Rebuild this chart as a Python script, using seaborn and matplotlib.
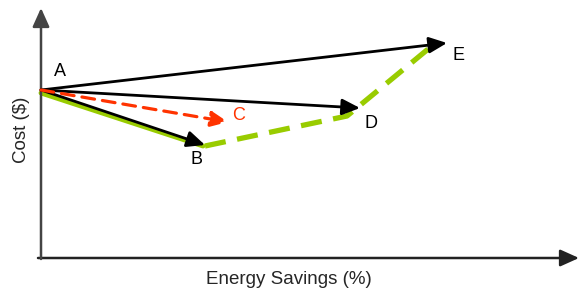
import matplotlib
matplotlib.use("Agg")
import matplotlib.pyplot as plt
import seaborn as sns
import pandas as pd

# points in chart units (energy savings, cost)
labels = ["A", "B", "C", "D", "E"]
savings = [0, 164, 187, 319, 406]
cost = [168, 113, 136, 150, 215]

# green path: A -> B solid, then B -> D' -> E dashed
green_solid_x = [0, 162]
green_solid_y = [165, 112]
green_dash_x = [164, 306, 392]
green_dash_y = [112, 142, 213]

sns.set_style("white")
plt.rcParams["font.family"] = ["Liberation Sans", "DejaVu Sans"]

fig = plt.figure(figsize=(5.79, 2.92), dpi=100)
ax = fig.add_axes([0, 0, 1, 1])
ax.set_xlim(-41, 538)
ax.set_ylim(-34, 258)
ax.axis("off")

green = "#99cc00"
sns.lineplot(data=pd.DataFrame({"x": green_solid_x, "y": green_solid_y}), x="x", y="y",
             ax=ax, color=green, lw=3.5, sort=False)
sns.lineplot(data=pd.DataFrame({"x": green_dash_x, "y": green_dash_y}), x="x", y="y",
             ax=ax, color=green, lw=3.8, sort=False, linestyle=(0, (4, 2.2)))

head = "-|>,head_length=0.6,head_width=0.27"
# axes arrows
ax.annotate("", xy=(538, 0), xytext=(-3, 0),
            arrowprops=dict(arrowstyle=head, mutation_scale=19, lw=1.8,
                            color="#222222", shrinkA=0, shrinkB=0))
ax.annotate("", xy=(0, 250), xytext=(0, -1),
            arrowprops=dict(arrowstyle=head, mutation_scale=19, lw=1.8,
                            color="#444444", shrinkA=0, shrinkB=0))

ax0 = (savings[0], cost[0])
for i in [1, 3, 4]:
    ax.annotate("", xy=(savings[i], cost[i]), xytext=ax0,
                arrowprops=dict(arrowstyle=head, mutation_scale=18, lw=2,
                                color="black", shrinkA=0, shrinkB=0))
ax.annotate("", xy=(savings[2], cost[2]), xytext=ax0,
            arrowprops=dict(arrowstyle=head, mutation_scale=17, lw=2.3, color="#ff3300",
                            linestyle=(0, (4, 2.5)), shrinkA=0, shrinkB=0))

offsets = {"A": (19, 18), "B": (-9, -15), "C": (11, 6), "D": (11, -15), "E": (12, -12)}
for lab, x, y in zip(labels, savings, cost):
    dx, dy = offsets[lab]
    ax.text(x + dx, y + dy, lab, fontsize=13, ha="center", va="center",
            color="#ff3300" if lab == "C" else "black")

ax.text(248, -22, "Energy Savings (%)", fontsize=13.5, ha="center", va="center")
ax.text(-19, 128, "Cost ($)", fontsize=13.5, ha="center", va="center", rotation=90)

fig.savefig("out.png", dpi=100)
